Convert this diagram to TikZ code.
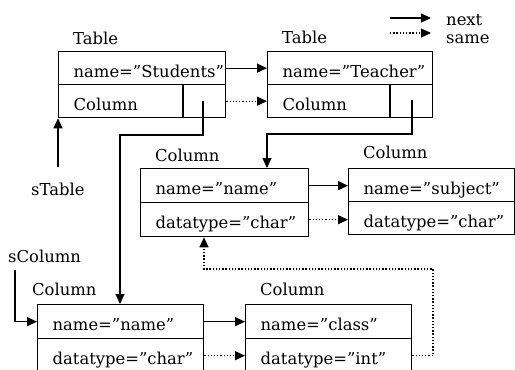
\documentclass[tikz,border=0pt]{standalone}
\usepackage{fontspec}
\setmainfont{DejaVu Serif}
\usetikzlibrary{arrows.meta}
\begin{document}
\begin{tikzpicture}[x=1pt,y=-1pt,
  every node/.style={font=\fontsize{16.4}{20}\selectfont},
  lbl/.style={anchor=base west, inner sep=0pt},
  row/.style={draw, line width=1.3pt, anchor=north west, inner xsep=15pt, inner ysep=0pt,
    text width=#1, align=left, text height=18pt, text depth=0pt},
  tip/.style={-{Triangle[length=10pt,width=9pt]}},
  nxt/.style={line width=1.3pt, tip},
  same/.style={line width=1.3pt, dash pattern=on 1.3pt off 1.9pt, tip},
  cell/.style={line width=1.3pt},
]
\useasboundingbox (0,0) rectangle (515,370);
\clip (0,0) rectangle (515,370);

% Table Students
\node[lbl] (lt1) at (73,44) {Table};
\node[row=137pt, minimum height=33pt] (t1n) at (58,51) {name=”Students”};
\node[row=137pt, minimum height=33pt] (t1c) at (58,84) {Column};
\draw[cell] (183,84) -- (183,117);
\coordinate (p1) at (203,101);
\coordinate (j1) at (120,135);

% Table Teacher
\node[lbl] (lt2) at (282,43) {Table};
\node[row=135pt, minimum height=33pt] (t2n) at (267,51) {name=”Teacher”};
\node[row=135pt, minimum height=33pt] (t2c) at (267,84) {Column};
\draw[cell] (390,84) -- (390,117);
\coordinate (p2) at (412,100);
\coordinate (j2) at (267,134);

% Column name (middle)
\node[lbl] (la) at (155,161) {Column};
\node[row=138pt, minimum height=34pt] (a1) at (140,168) {name=”name”};
\node[row=138pt, minimum height=34pt] (a2) at (140,202) {datatype=”char”};

% Column subject
\node[lbl] (lb) at (363,158) {Column};
\node[row=136pt, minimum height=33pt] (b1) at (348,168) {name=”subject”};
\node[row=136pt, minimum height=33pt] (b2) at (348,201) {datatype=”char”};

% Column name (bottom)
\node[lbl] (lc) at (32,295) {Column};
\node[row=136pt, minimum height=34pt] (c1) at (37,304) {name=”name”};
\node[row=136pt, minimum height=34pt] (c2) at (37,338) {datatype=”char”};

% Column class
\node[lbl] (ld) at (260,295) {Column};
\node[row=136pt, minimum height=34pt] (d1) at (245,304) {name=”class”};
\node[row=136pt, minimum height=34pt] (d2) at (245,338) {datatype=”int”};

% external labels
\node[lbl] (st) at (31,195) {sTable};
\coordinate (s1) at (58,167);
\node[lbl] (sc) at (8,262) {sColumn};
\coordinate (s2) at (15,270);

% legend
\coordinate (l1) at (390,18);
\coordinate (l2) at (431,18);
\coordinate (l3) at (390,33);
\coordinate (l4) at (431,33);
\node[lbl] (nx) at (446,25) {next};
\node[lbl] (sm) at (446,43) {same};
\draw[nxt] (l1) -- (l2);
\draw[same] (l3) -- (l4);

% connectors
\draw[nxt] (t1n.east) -- (t2n.west);
\draw[same] (t1c.east) -- (t2c.west);
\draw[nxt] (p1) |- (j1) -- (j1 |- c1.north);
\draw[nxt] (p2) |- (j2) -- (j2 |- a1.north);
\draw[nxt] (s1) -- (t1c.south west);
\draw[nxt] (s2) |- (c1.west);
\draw[nxt] (a1.east) -- (a1.east -| b1.west);
\draw[same] (a2.east) -- (a2.east -| b2.west);
\draw[nxt] (c1.east) -- (d1.west);
\draw[same] (c2.east) -- (d2.west);
\coordinate (r1) at (204,269);
\coordinate (r2) at (433,269);
\draw[same] (d2.east) -- (d2.east -| r2) -- (r2) -- (r1) -- (r1 |- a2.south);
\end{tikzpicture}
\end{document}
